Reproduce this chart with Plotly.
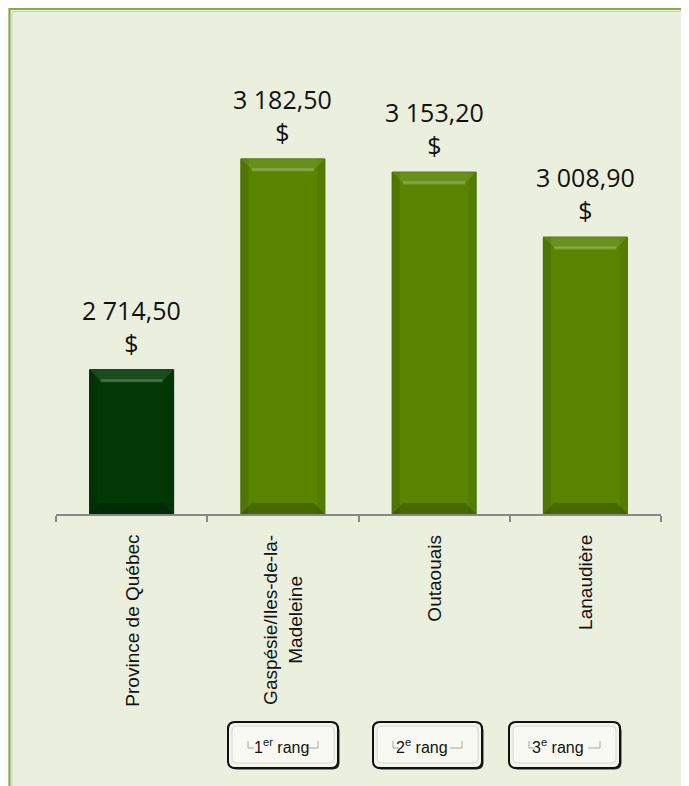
import plotly.graph_objects as go

# ---------------- data ----------------
regions = ["Province de Québec", "Gaspésie/Iles-de-la-Madeleine", "Outaouais", "Lanaudière"]
region_labels = ["Province de Québec", "Gaspésie/Iles-de-la-<br>Madeleine", "Outaouais", "Lanaudière"]
values = [2714.50, 3182.50, 3153.20, 3008.90]
rank_labels = ["1<sup>er</sup> rang", "2<sup>e</sup> rang", "3<sup>e</sup> rang"]

# ---------------- styling ----------------
OFF = 8  # page body margin
W, H = 689 - OFF, 786 - OFF
PX0, PX1, PY0, PY1 = 56, 661, 60, 514  # plot area in window pixels
ML = PX0 - OFF
MR = W - (PX1 - OFF)
MT = PY0 - OFF
MB = H - (PY1 - OFF)
PW = PX1 - PX0
PH = PY1 - PY0
YMIN, YMAX = 2394, 3402
BARW = 0.556
bar_colors = ["#013806", "#588400", "#588400", "#588400"]
line_colors = ["#002A04", "#4C7400", "#4C7400", "#4C7400"]


def fr(v):
    s = f"{v:,.2f}"
    return s.replace(",", " ").replace(".", ",")


texts = [fr(v) + "<br>$" for v in values]


def px(x):
    return (x - PX0) / PW


def py(y):
    return (PY1 - y) / PH


def rrect(x0, y0, x1, y1, r):
    pts = [
        f"M {px(x0 + r)} {py(y0)}",
        f"L {px(x1 - r)} {py(y0)}",
        f"Q {px(x1)} {py(y0)} {px(x1)} {py(y0 + r)}",
        f"L {px(x1)} {py(y1 - r)}",
        f"Q {px(x1)} {py(y1)} {px(x1 - r)} {py(y1)}",
        f"L {px(x0 + r)} {py(y1)}",
        f"Q {px(x0)} {py(y1)} {px(x0)} {py(y1 - r)}",
        f"L {px(x0)} {py(y0 + r)}",
        f"Q {px(x0)} {py(y0)} {px(x0 + r)} {py(y0)} Z",
    ]
    return " ".join(pts)


fig = go.Figure()
fig.add_trace(go.Bar(
    x=regions,
    y=values,
    marker=dict(color=bar_colors, line=dict(color=line_colors, width=1)),
    hoverinfo="skip",
    width=BARW,
))

shapes = []
# outer panel
shapes.append(dict(type="rect", xref="paper", yref="paper",
                   x0=px(9.5), y0=py(9), x1=px(720), y1=py(820),
                   fillcolor="#EBEFDE", line=dict(color="#86AB45", width=2), layer="below"))
shapes.append(dict(type="rect", xref="paper", yref="paper",
                   x0=px(12), y0=py(11.5), x1=px(720), y1=py(820),
                   fillcolor="rgba(0,0,0,0)", line=dict(color="#C6D9A2", width=1), layer="below"))

# bevel effect on bars (positions derived from the data values)
cat_px = PW / len(regions)
unit_px = PH / (YMAX - YMIN)
dx = 11 / cat_px
dy = 11 / unit_px
for i, v in enumerate(values):
    xl, xr = i - BARW / 2, i + BARW / 2
    # side strips
    shapes.append(dict(type="rect", xref="x", yref="y", x0=xl, x1=xl + dx * 0.7, y0=YMIN, y1=v,
                       fillcolor="rgba(0,0,0,0.10)", line=dict(width=0), layer="above"))
    shapes.append(dict(type="rect", xref="x", yref="y", x0=xr - dx * 0.7, x1=xr, y0=YMIN, y1=v,
                       fillcolor="rgba(0,0,0,0.05)", line=dict(width=0), layer="above"))
    # top bevel (lighter)
    shapes.append(dict(type="path", xref="x", yref="y",
                       path=f"M {xl} {v} L {xr} {v} L {xr - dx} {v - dy} L {xl + dx} {v - dy} Z",
                       fillcolor="rgba(255,255,255,0.10)", line=dict(width=0), layer="above"))
    shapes.append(dict(type="line", xref="x", yref="y", x0=xl + dx, x1=xr - dx, y0=v - dy, y1=v - dy,
                       line=dict(color="rgba(255,255,255,0.22)", width=3), layer="above"))
    # bottom bevel (darker)
    shapes.append(dict(type="path", xref="x", yref="y",
                       path=f"M {xl} {YMIN} L {xr} {YMIN} L {xr - dx} {YMIN + dy} L {xl + dx} {YMIN + dy} Z",
                       fillcolor="rgba(0,0,0,0.20)", line=dict(width=0), layer="above"))

annotations = []
# value labels
for reg, v, t in zip(regions, values, texts):
    annotations.append(dict(
        x=reg, xref="x", y=v, yref="y", yanchor="bottom", xanchor="center",
        yshift=8, text=t, showarrow=False, align="center",
        font=dict(family="Open Sans, Liberation Sans, sans-serif", size=25, color="#111111"),
    ))

# category labels (rotated)
for reg, lab in zip(regions, region_labels):
    annotations.append(dict(
        x=reg, xref="x", y=0, yref="paper", yanchor="top", xanchor="center",
        yshift=-19, text=lab, textangle=-90, showarrow=False, align="center",
        font=dict(family="Liberation Sans, Arial, sans-serif", size=19, color="#111111"),
    ))

# rank buttons
buttons = [(228, 338, 281), (373, 482, 422), (509, 620, 558)]
by0, by1 = 722, 768
for (bx0, bx1, tx), lab in zip(buttons, rank_labels):
    shapes.append(dict(type="path", xref="paper", yref="paper",
                       path=rrect(bx0 + 1.5, by0 + 1.5, bx1 + 1.5, by1 + 1.5, 7),
                       fillcolor="#2A2A2A", line=dict(width=0), layer="above"))
    shapes.append(dict(type="path", xref="paper", yref="paper",
                       path=rrect(bx0, by0, bx1, by1, 7),
                       fillcolor="#F3F5EC", line=dict(color="#111111", width=2), layer="above"))
    shapes.append(dict(type="path", xref="paper", yref="paper",
                       path=rrect(bx0 + 4, by0 + 4, bx1 - 4, by1 - 5, 5),
                       fillcolor="#F8F9F3", line=dict(color="#D6D8CE", width=1), layer="above"))
    lx = bx0 + 20
    rx = bx1 - 20
    ly0, ly1 = 741, 748
    shapes.append(dict(type="path", xref="paper", yref="paper",
                       path=f"M {px(lx)} {py(ly0)} L {px(lx)} {py(ly1)} L {px(lx + 6)} {py(ly1)}",
                       line=dict(color="#A8A8A0", width=1), layer="above"))
    shapes.append(dict(type="path", xref="paper", yref="paper",
                       path=f"M {px(rx - 12)} {py(ly1)} L {px(rx)} {py(ly1)} L {px(rx)} {py(ly0)}",
                       line=dict(color="#A8A8A0", width=1), layer="above"))
    annotations.append(dict(
        x=px(tx), y=py(746), xref="paper", yref="paper", xanchor="center", yanchor="middle",
        text=lab, showarrow=False,
        font=dict(family="Liberation Sans, Arial, sans-serif", size=16, color="#111111"),
    ))

fig.update_layout(
    width=W, height=H, autosize=False,
    margin=dict(l=ML, r=MR, t=MT, b=MB, pad=0),
    paper_bgcolor="#E5E5E5",
    plot_bgcolor="rgba(0,0,0,0)",
    showlegend=False,
    shapes=shapes,
    annotations=annotations,
    xaxis=dict(
        type="category",
        showticklabels=False,
        showline=True, linecolor="#888888", linewidth=2,
        ticks="outside", tickson="boundaries", ticklen=6, tickcolor="#888888", tickwidth=2,
        showgrid=False, zeroline=False, fixedrange=True,
    ),
    yaxis=dict(
        range=[YMIN, YMAX],
        visible=False, showgrid=False, zeroline=False, fixedrange=True,
    ),
)

fig.write_html("out.html")
